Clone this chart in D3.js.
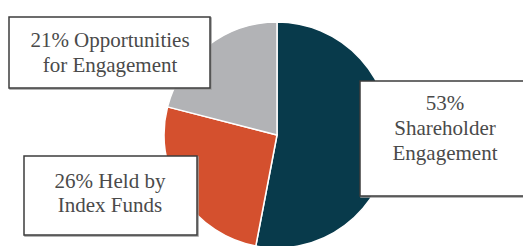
<!DOCTYPE html>
<html><head><meta charset="utf-8"><script src="https://cdn.jsdelivr.net/npm/d3@7"></script></head>
<body style="margin:0">
<svg id="chart" width="523" height="246"></svg>
<script>
const categories = ["Shareholder Engagement", "Held by Index Funds", "Opportunities for Engagement"];
const values = [53, 26, 21];
const colors = ["#083a4b", "#d4502e", "#b2b3b6"];
const labelLines = [
  ["53%", "Shareholder", "Engagement"],
  ["26% Held by", "Index Funds"],
  ["21% Opportunities", "for Engagement"]
];

const svg = d3.select("#chart").style("display", "block");
const cx = 277, cy = 135, r = 113;

const pie = d3.pie().sort(null).value(d => d);
const arc = d3.arc().innerRadius(0).outerRadius(r);

svg.append("g")
  .attr("transform", `translate(${cx},${cy})`)
  .selectAll("path")
  .data(pie(values))
  .join("path")
  .attr("d", arc)
  .attr("fill", (d, i) => colors[i])
  .attr("stroke", "#fff")
  .attr("stroke-width", 1.5)
  .attr("stroke-linejoin", "round");

const boxes = [
  { x: 360, y: 81, w: 175, h: 115, tx: 445, ty: 110, lh: 25 },
  { x: 24, y: 156, w: 173, h: 79, tx: 110, ty: 188, lh: 24 },
  { x: 9, y: 17, w: 201, h: 71, tx: 110, ty: 47, lh: 25 }
];

boxes.forEach((b, i) => {
  svg.append("rect")
    .attr("x", b.x + 1).attr("y", b.y + 1)
    .attr("width", b.w).attr("height", b.h)
    .attr("fill", "none").attr("stroke", "#9a9a9a").attr("stroke-width", 1.5);
  svg.append("rect")
    .attr("x", b.x).attr("y", b.y)
    .attr("width", b.w).attr("height", b.h)
    .attr("fill", "#fff").attr("stroke", "#3c3c3c").attr("stroke-width", 1.5);
});

const lines = [];
boxes.forEach((b, i) => labelLines[i].forEach((line, j) =>
  lines.push({ text: line, x: b.tx, y: b.ty + j * b.lh })));

svg.selectAll("text").data(lines).join("text")
  .attr("x", d => d.x).attr("y", d => d.y)
  .attr("text-anchor", "middle")
  .attr("fill", "#4a4a4a")
  .style("font-family", '"Liberation Serif"')
  .style("font-size", "21px")
  .text(d => d.text);
</script></body></html>
